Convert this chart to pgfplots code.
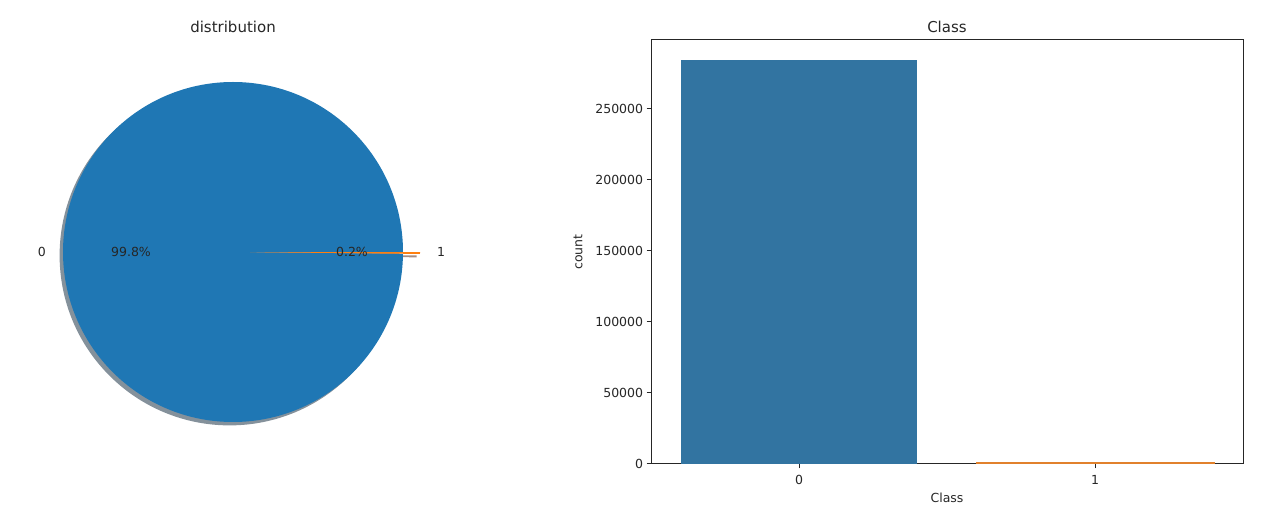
\documentclass[border=0pt]{standalone}
\usepackage{pgfplots}
\pgfplotsset{compat=1.18}
\usepackage{fontspec}
\setmainfont{DejaVu Sans}
\definecolor{pieA}{HTML}{1F77B4}
\definecolor{pieB}{HTML}{FF7F0E}
\definecolor{shA}{RGB}{132,145,155}
\definecolor{shB}{RGB}{166,140,129}
\definecolor{barA}{HTML}{3274A1}
\definecolor{barB}{HTML}{E1812C}
\definecolor{txt}{HTML}{262626}
\newcommand{\smallf}{\fontsize{12.5}{15}\selectfont}
\newcommand{\largef}{\fontsize{15}{18}\selectfont}
% class counts
\def\nA{284315}
\def\nB{492}
\edef\angB{\fpeval{round(360*\nB/(\nA+\nB),5)}}
\edef\angA{\fpeval{round(360-\angB,5)}}
\edef\exX{\fpeval{round(0.1*cosd(-\angB/2),5)}}
\edef\exY{\fpeval{round(0.1*sind(-\angB/2),5)}}
\edef\cA{\fpeval{round(cosd(\angA),5)}}
\edef\sA{\fpeval{round(sind(\angA),5)}}
\begin{document}
\begin{tikzpicture}[x=1pt,y=1pt]
\useasboundingbox (0,0) rectangle (1262,514);
% ---------- pie ----------
\begin{axis}[at={(33pt,62pt)}, anchor=south west, scale only axis,
  width=400pt, height=400pt, xmin=-1.17647, xmax=1.17647,
  ymin=-1.17647, ymax=1.17647, hide axis, clip=false]
  % shadows
  \fill[shA] (axis cs:-0.02,-0.02) -- (axis cs:0.98,-0.02)
     arc[start angle=0, end angle=\angA, radius=1] -- cycle;
  \fill[shB] (axis cs:{\exX-0.02},{\exY-0.02}) -- (axis cs:{\exX-0.02+\cA},{\exY-0.02+\sA})
     arc[start angle=\angA, end angle=360, radius=1] -- cycle;
  % wedges
  \fill[pieA] (axis cs:0,0) -- (axis cs:1,0)
     arc[start angle=0, end angle=\angA, radius=1] -- cycle;
  \fill[pieB] (axis cs:\exX,\exY) -- (axis cs:{\exX+\cA},{\exY+\sA})
     arc[start angle=\angA, end angle=360, radius=1] -- cycle;
  \node[font=\smallf, text=txt, anchor=east, inner sep=0pt] at (axis cs:-1.1,0) {0};
  \node[font=\smallf, text=txt, anchor=west, inner sep=0pt] at (axis cs:{1.1+\exX},\exY) {1};
  \node[font=\smallf, text=txt, inner sep=0pt] at (axis cs:-0.6,0) {99.8\%};
  \node[font=\smallf, text=txt, inner sep=0pt] at (axis cs:{0.6+\exX},\exY) {0.2\%};
  \node[font=\largef, text=txt, inner sep=0pt] at (axis cs:0,1.3235) {distribution};
\end{axis}
% ---------- bar ----------
\begin{axis}[at={(651pt,50pt)}, anchor=south west, scale only axis,
  width=592pt, height=424pt, xmin=-0.5, xmax=1.5, ymin=0, ymax=298531,
  ybar, bar width=0.8, bar shift=0pt,
  xtick={0,1}, xticklabels={0,1},
  ytick={0,50000,100000,150000,200000,250000},
  scaled y ticks=false,
  /pgf/number format/.cd, fixed, 1000 sep={}, assume math mode=true, /pgfplots/.cd,
  tick align=outside, major tick length=4.4pt,
  xtick pos=bottom, ytick pos=left,
  tick style={txt, line width=1pt},
  axis line style={txt, line width=1pt},
  tick label style={font=\smallf, text=txt},
  xticklabel style={yshift=-3pt},
  label style={font=\smallf, text=txt},
  xlabel style={yshift=-2pt},
  ylabel style={yshift=6pt},
  ylabel={count}, xlabel={Class},
  title={Class}, title style={font=\largef, text=txt, at={(0.5,1)}, anchor=base, inner sep=0pt, yshift=1pt},
  ]
  \addplot[fill=barA, draw=none] coordinates {(0,284315)};
  \addplot[fill=barB, draw=barB, line width=2.2pt] coordinates {(1,492)};
\end{axis}
\end{tikzpicture}
\end{document}
